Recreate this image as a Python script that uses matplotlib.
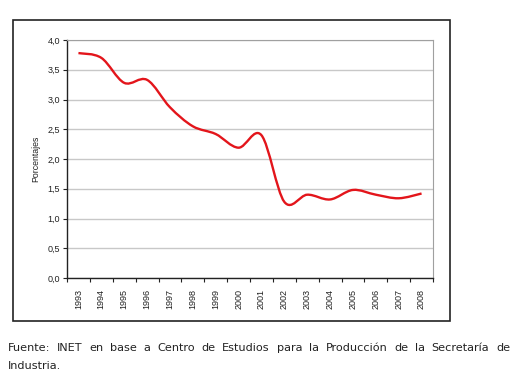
import matplotlib
matplotlib.use("Agg")
import matplotlib.pyplot as plt
import numpy as np
from matplotlib.path import Path
from matplotlib.patches import PathPatch, Rectangle

years = ["1993", "1994", "1995", "1996", "1997", "1998", "1999", "2000",
         "2001", "2002", "2003", "2004", "2005", "2006", "2007", "2008"]
values = [3.78, 3.70, 3.28, 3.33, 2.87, 2.55, 2.42, 2.19,
          2.40, 1.28, 1.40, 1.32, 1.48, 1.40, 1.34, 1.42]
yticks = [0.0, 0.5, 1.0, 1.5, 2.0, 2.5, 3.0, 3.5, 4.0]
ytick_labels = ["0,0", "0,5", "1,0", "1,5", "2,0", "2,5", "3,0", "3,5", "4,0"]
ylabel = "Porcentajes"
caption1 = "Fuente: INET en base a Centro de Estudios para la Producción de la Secretaría de"
caption2 = "Industria."

W, H = 516, 381
fig = plt.figure(figsize=(W / 100, H / 100), dpi=100)
fig.patch.set_facecolor("white")

# outer chart border
fig.patches.append(Rectangle((13 / W, 1 - 321 / H), (450 - 13) / W, (321 - 20) / H,
                             transform=fig.transFigure, fill=False,
                             edgecolor="#222222", linewidth=1.2))

ax = fig.add_axes([67 / W, 1 - 278 / H, (433 - 67) / W, (278 - 40) / H])
x = np.arange(len(years))
ax.set_xlim(-0.5, len(years) - 0.5)
ax.set_ylim(0, 4.0)

# smooth line (Excel-like Bezier through data points)
pts = np.column_stack([x, values]).astype(float)
verts = [tuple(pts[0])]
codes = [Path.MOVETO]
n = len(pts)
for i in range(n - 1):
    p0 = pts[i - 1] if i > 0 else pts[i]
    p1 = pts[i]
    p2 = pts[i + 1]
    p3 = pts[i + 2] if i + 2 < n else pts[i + 1]
    c1 = p1 + (p2 - p0) / 6.0
    c2 = p2 - (p3 - p1) / 6.0
    verts += [tuple(c1), tuple(c2), tuple(p2)]
    codes += [Path.CURVE4] * 3
ax.add_patch(PathPatch(Path(verts, codes), fill=False, edgecolor="#e3151b",
                       linewidth=1.7, zorder=3))

ax.set_yticks(yticks)
ax.set_yticklabels(ytick_labels, fontsize=6.5, family="Liberation Sans", color="#222222")
ax.yaxis.grid(True, color="#c8c8c8", linewidth=1.0)
ax.set_axisbelow(True)

ax.set_xticks(x)
ax.set_xticklabels(years, rotation=90, fontsize=6.5, family="Liberation Sans", color="#222222")
ax.set_xticks(np.arange(-0.5, len(years)), minor=True)
ax.tick_params(axis="x", which="major", length=0, pad=8)
ax.tick_params(axis="x", which="minor", length=3, width=0.8, direction="out", color="#222222")
ax.tick_params(axis="y", length=3, width=0.8, direction="out", color="#222222", pad=2)

for s in ["top", "right"]:
    ax.spines[s].set_color("#a0a0a0")
    ax.spines[s].set_linewidth(0.8)
for s in ["left", "bottom"]:
    ax.spines[s].set_color("#222222")
    ax.spines[s].set_linewidth(1.0)

ax.set_ylabel(ylabel, fontsize=6.3, family="Liberation Sans", color="#222222", labelpad=5)

# justified caption first line
cap_kw = dict(fontsize=8.1, family="DejaVu Sans", color="#222222", va="center", ha="left")
renderer = fig.canvas.get_renderer()
words = caption1.split(" ")
x_left, x_right = 7.5, 510
texts = [fig.text(0, 1 - 348 / H, w, **cap_kw) for w in words]
widths = [t.get_window_extent(renderer).width for t in texts]
gap = (x_right - x_left - sum(widths)) / (len(words) - 1)
xpos = x_left
for t, w in zip(texts, widths):
    t.set_x(xpos / W)
    xpos += w + gap
fig.text(x_left / W, 1 - 366 / H, caption2, **cap_kw)

fig.savefig("out.png", dpi=100, facecolor="white")
